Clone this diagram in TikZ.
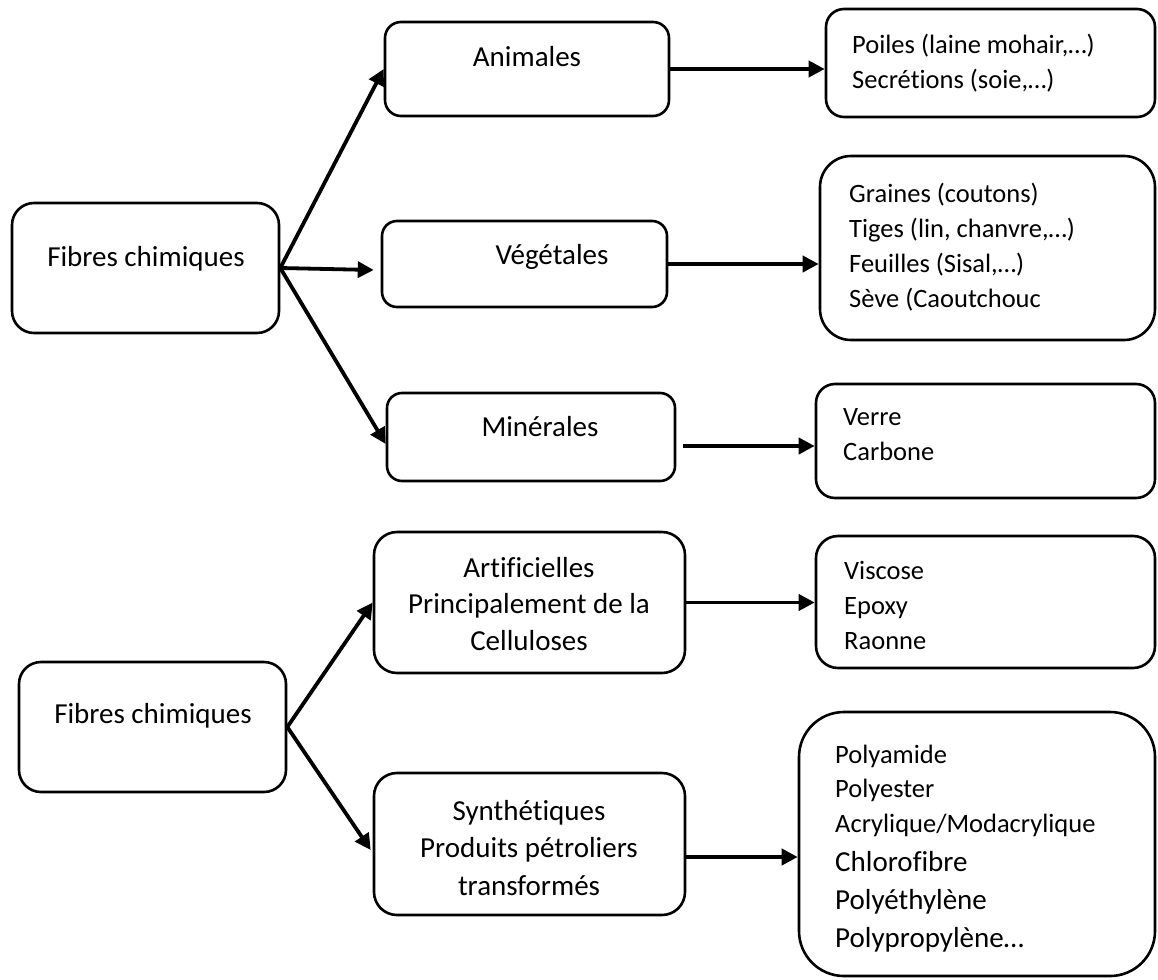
\documentclass[tikz,border=0pt]{standalone}
\usepackage{fontspec}
\setmainfont{Carlito}[Ligatures=NoCommon]
\usetikzlibrary{arrows.meta,calc}
\newcommand\fbig{\fontsize{29}{37}\selectfont}
\newcommand\fsmall{\fontsize{26.5}{35}\selectfont}
\newcommand\ltab[1]{\begin{tabular}[t]{@{}l@{}}#1\end{tabular}}
\newcommand\ctab[1]{\begin{tabular}[t]{@{}c@{}}#1\end{tabular}}
\begin{document}
\begin{tikzpicture}[x=1pt,y=-1pt,
  box/.style={draw=black, line width=2.6pt, rectangle, inner sep=0pt},
  lbl/.style={inner sep=0pt, anchor=base, font=\fbig},
  itm/.style={inner sep=0pt, anchor=base west, font=\fsmall},
  conn/.style={draw=black, line width=3.8pt, -{Triangle[length=16pt,width=16pt]}}]
\useasboundingbox (0,0) rectangle (1158,979);
% ---------- top part ----------
\node[box, minimum width=267pt, minimum height=130pt, rounded corners=22pt] (f1) at (145.5,268) {};
\node[box, minimum width=284pt, minimum height=94pt, rounded corners=16pt] (anim) at (527,69) {};
\node[box, minimum width=285pt, minimum height=86pt, rounded corners=15pt] (veg) at (524.5,264) {};
\node[box, minimum width=288pt, minimum height=88pt, rounded corners=15pt] (min) at (531,437) {};
\node[box, minimum width=329pt, minimum height=108pt, rounded corners=18pt] (poil) at (990.5,63) {};
\node[box, minimum width=335pt, minimum height=184pt, rounded corners=31pt] (grai) at (987.5,248) {};
\node[box, minimum width=339pt, minimum height=114pt, rounded corners=19pt] (verr) at (985.5,441) {};

\node[lbl] (f1t) at (146,266) {Fibres chimiques};
\node[lbl] (animt) at (527,67) {Animales};
\node[lbl] (vegt) at (552,264) {Végétales};
\node[lbl] (mint) at (540,436) {Minérales};
\node[itm] (poilt) at (852,54) {\ltab{Poiles (laine mohair,…)\\Secrétions (soie,…)}};
\node[itm] (grait) at (849,202) {\ltab{Graines (coutons)\\Tiges (lin, chanvre,…)\\Feuilles (Sisal,…)\\Sève (Caoutchouc}};
\node[itm] (verrt) at (843,425) {\ltab{Verre\\Carbone}};

\coordinate (vegin) at ($(veg.west)+(-7,6)$);
\coordinate (minin) at ($(min.west)+(0,7)$);
\coordinate (minout) at ($(min.east)+(7,9)$);
\draw[conn] (f1.east) -- (anim.west);
\draw[conn] (f1.east) -- (vegin);
\draw[conn] (f1.east) -- (minin);
\draw[conn] (anim.east) -- (anim.east -| poil.west);
\draw[conn] (veg.east) -- (veg.east -| grai.west);
\draw[conn] (minout) -- (minout -| verr.west);

% ---------- bottom part ----------
\node[box, minimum width=267pt, minimum height=130pt, rounded corners=22pt] (f2) at (152.5,727) {};
\node[box, minimum width=311pt, minimum height=141pt, rounded corners=23pt] (arti) at (529.5,602.5) {};
\node[box, minimum width=311pt, minimum height=142pt, rounded corners=23pt] (synt) at (529.5,844) {};
\node[box, minimum width=339pt, minimum height=132pt, rounded corners=22pt] (visc) at (985.5,602) {};
\node[box, minimum width=356pt, minimum height=264pt, rounded corners=45pt] (poly) at (977,844) {};

\node[lbl] (f2t) at (153,723) {Fibres chimiques};
\node[lbl, font=\fontsize{29}{36.5}\selectfont] (artit) at (529,577) {\ctab{Artificielles\\Principalement de la\\Celluloses}};
\node[lbl, font=\fontsize{29}{37.5}\selectfont] (syntt) at (529,820) {\ctab{Synthétiques\\Produits pétroliers\\transformés}};
\node[itm] (visct) at (844,579) {\ltab{Viscose\\Epoxy\\Raonne}};
\node[itm, font=\fontsize{26.5}{34.5}\selectfont] (polyt1) at (835,763) {\ltab{Polyamide\\Polyester\\Acrylique/Modacrylique}};
\node[itm, font=\fontsize{29}{38}\selectfont] (polyt2) at (835,871) {\ltab{Chlorofibre\\Polyéthylène\\Polypropylène…}};

\coordinate (syntin) at ($(synt.west)+(-2,6)$);
\coordinate (syntout) at ($(synt.east)+(0,13)$);
\draw[conn] (f2.east) -- (arti.west);
\draw[conn] (f2.east) -- (syntin);
\draw[conn] (arti.east) -- (arti.east -| visc.west);
\draw[conn] (syntout) -- (syntout -| poly.west);
\end{tikzpicture}
\end{document}
